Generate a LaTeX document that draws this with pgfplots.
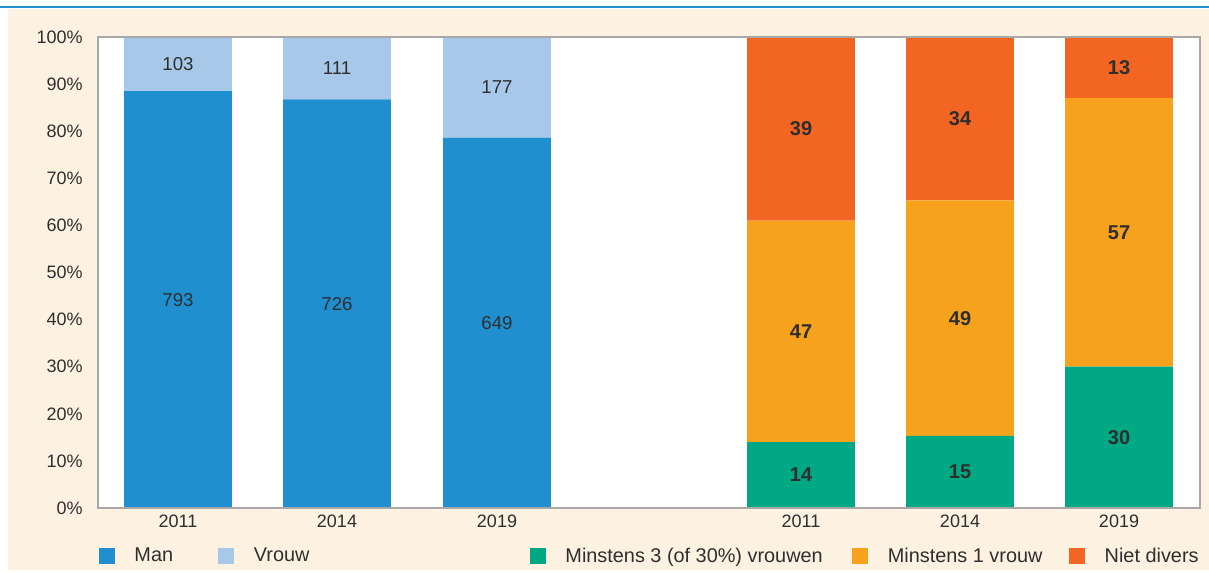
\documentclass[border=0pt]{standalone}
\usepackage{pgfplots}
\pgfplotsset{compat=1.18}
\usepackage{pgfplotstable}
\usepackage{fontspec}
\setmainfont{Liberation Sans}
\definecolor{cream}{HTML}{FDF2E2}
\definecolor{manblue}{HTML}{1F8FCF}
\definecolor{vrouwblue}{HTML}{A7C8E9}
\definecolor{dgreen}{HTML}{00A884}
\definecolor{dorange}{HTML}{F7A21C}
\definecolor{dred}{HTML}{F26522}
\definecolor{txt}{HTML}{2E2E2E}
\definecolor{framegray}{HTML}{A8A8A8}
\definecolor{topline}{HTML}{1F8FCF}

% percentages of each bar; lab = the count shown in the segment
\pgfplotstableread{
x y lab
178 88.504 793
337 86.738 726
497 78.571 649
}\tabman
\pgfplotstableread{
x y lab
178 11.496 103
337 13.262 111
497 21.429 177
}\tabvrouw
\pgfplotstableread{
x y lab
801 14 14
960 15.306 15
1119 30 30
}\tabdrie
\pgfplotstableread{
x y lab
801 47 47
960 50.000 49
1119 57 57
}\tabeen
\pgfplotstableread{
x y lab
801 39 39
960 34.694 34
1119 13 13
}\tabniet

\pgfplotsset{
  base/.style={
    scale only axis, width=826.5pt, height=353.25pt,
    xmin=98, xmax=1200, ymin=0, ymax=100,
    ybar stacked, bar width=107.7,
    major tick length=0pt,
    ticklabel style={font=\fontsize{13.5}{16}\selectfont, text=txt},
    xticklabel style={yshift=-2pt},
    legend image code/.code={\fill[##1, draw=none] (0pt,-6pt) rectangle (12pt,6pt); \path[draw=none, fill=none] (0pt,-6pt) rectangle (26.6pt,6pt);},
    legend style={draw=none, fill=none, inner sep=0pt, outer sep=0pt,
      legend columns=-1, font=\fontsize{14.9}{17}\selectfont, text=txt,
      nodes={inner sep=0pt},
      /tikz/every odd column/.append style={column sep=0pt},
      /tikz/every even column/.append style={column sep=0pt}},
  },
  lab/.style={nodes near coords, point meta=explicit symbolic,
    every node near coord/.style={anchor=center, text=txt, font=#1}},
}

\begin{document}
\begin{tikzpicture}
\fill[white] (-73.5pt,-48pt) rectangle (833.25pt,381pt);
\useasboundingbox (-73.5pt,-48pt) rectangle (833.25pt,381pt);
\fill[cream] (-67.5pt,-46.5pt) rectangle (833.25pt,374.25pt);
\draw[topline, line width=1.2pt] (-73.5pt,375.6pt) -- (833.25pt,375.6pt);

\begin{axis}[base,
  axis background/.style={fill=white},
  axis line style={draw=none},
  ytick={0,10,20,30,40,50,60,70,80,90,100},
  yticklabels={0\%,10\%,20\%,30\%,40\%,50\%,60\%,70\%,80\%,90\%,100\%},
  yticklabel style={xshift=-8pt},
  xtick={178,337,497}, xticklabels={2011,2014,2019},
  legend style={at={(axis description cs:0.000907,-0.102)}, anchor=west},
]
\addplot[fill=manblue, draw=none, lab=\fontsize{14}{16}\selectfont] table[x=x, y=y, meta=lab] {\tabman};
\addlegendentry{\makebox[63pt][l]{Man}}
\addplot[fill=vrouwblue, draw=none, lab=\fontsize{14}{16}\selectfont] table[x=x, y=y, meta=lab] {\tabvrouw};
\addlegendentry{Vrouw}
\end{axis}

\begin{axis}[base,
  axis on top,
  axis line style={framegray, line width=0.9pt},
  ytick=\empty,
  xtick={801,960,1119}, xticklabels={2011,2014,2019},
  legend style={at={(axis description cs:0.39201,-0.102)}, anchor=west},
]
\addplot[fill=dgreen, draw=none, lab=\fontsize{15}{17}\selectfont\bfseries] table[x=x, y=y, meta=lab] {\tabdrie};
\addlegendentry{\makebox[215.25pt][l]{Minstens 3 (of 30\%) vrouwen}}
\addplot[fill=dorange, draw=none, lab=\fontsize{15}{17}\selectfont\bfseries] table[x=x, y=y, meta=lab] {\tabeen};
\addlegendentry{\makebox[136pt][l]{Minstens 1 vrouw}}
\addplot[fill=dred, draw=none, lab=\fontsize{15}{17}\selectfont\bfseries] table[x=x, y=y, meta=lab] {\tabniet};
\addlegendentry{Niet divers}
\end{axis}
\end{tikzpicture}
\end{document}
